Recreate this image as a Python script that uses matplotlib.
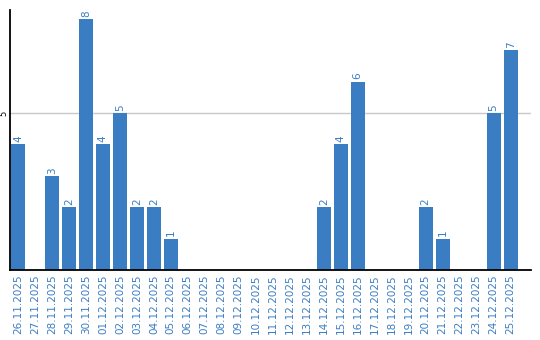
import matplotlib
matplotlib.use("Agg")
import matplotlib.pyplot as plt

dates = [
    "26.11.2025", "27.11.2025", "28.11.2025", "29.11.2025", "30.11.2025",
    "01.12.2025", "02.12.2025", "03.12.2025", "04.12.2025", "05.12.2025",
    "06.12.2025", "07.12.2025", "08.12.2025", "09.12.2025", "10.12.2025",
    "11.12.2025", "12.12.2025", "13.12.2025", "14.12.2025", "15.12.2025",
    "16.12.2025", "17.12.2025", "18.12.2025", "19.12.2025", "20.12.2025",
    "21.12.2025", "22.12.2025", "23.12.2025", "24.12.2025", "25.12.2025",
]
counts = [4, 0, 3, 2, 8, 4, 5, 2, 2, 1,
          0, 0, 0, 0, 0, 0, 0, 0, 2, 4,
          6, 0, 0, 0, 2, 1, 0, 0, 5, 7]
y_ticks = [5]

blue = "#3b7dc3"

fig = plt.figure(figsize=(5.4, 3.4), dpi=100)
ax = fig.add_axes([10 / 540, 70 / 340, 521 / 540, 260 / 340])

x = list(range(len(dates)))
ax.bar(x, counts, width=0.82, color=blue, zorder=2)

for xi, v in zip(x, counts):
    if v > 0:
        ax.text(xi, v + 0.07, str(v), rotation=90, ha="center", va="bottom",
                color=blue, fontsize=7.5)

ax.set_xlim(-0.47, 30.2)
ax.set_ylim(0, 8.28)
ax.set_yticks(y_ticks)
ax.set_yticklabels([str(t) for t in y_ticks], rotation=90, va="center", fontsize=6)
ax.tick_params(axis="y", length=0, pad=1)
ax.set_xticks(x)
ax.set_xticklabels(dates, rotation=90, color=blue, fontsize=7.5)
ax.tick_params(axis="x", length=0, pad=3)
ax.grid(axis="y", color="#c8c8c8", linewidth=1, zorder=0)

for side in ["top", "right"]:
    ax.spines[side].set_visible(False)
ax.spines["left"].set_linewidth(1.3)
ax.spines["bottom"].set_linewidth(1.3)

fig.savefig("out.png", dpi=100)
